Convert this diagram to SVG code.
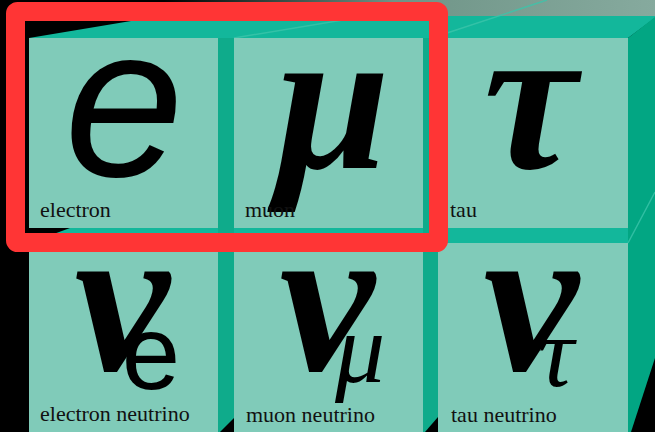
<svg xmlns="http://www.w3.org/2000/svg" width="655" height="432" viewBox="0 0 655 432">
  <defs>
    <linearGradient id="sky" x1="0" y1="0" x2="1" y2="0">
      <stop offset="0.25" stop-color="#000"/>
      <stop offset="0.6" stop-color="#6f9487"/>
      <stop offset="1" stop-color="#86aa9e"/>
    </linearGradient>
  </defs>
  <style>
    .front { fill: #80cbb9; }
    .topband { fill: #13b79b; }
    .strip { fill: #0fab8b; }
    .side { fill: #02a683; }
    .edge { stroke: #3cc4aa; stroke-width: 1.5; fill: none; opacity: 0.8; }
    .label { font-family: "Liberation Serif", "Times New Roman", serif; font-size: 22px; fill: #111; }
    .sym-sans { font-family: "Liberation Sans", Arial, sans-serif; fill: #000; }
    .sym-serif { font-family: "Liberation Serif", "Times New Roman", serif; fill: #000; font-style: italic; }
    .bold { font-weight: bold; }
    .frame { fill: none; stroke: #ff3535; stroke-width: 19; }
  </style>

  <rect x="0" y="0" width="655" height="432" fill="#000"/>
  <rect x="0" y="0" width="655" height="18" fill="url(#sky)"/>

  <g id="cube-structure">
    <!-- top faces of upper row -->
    <polygon class="topband" points="29,38 161,16 655,16 655,18 628,38"/>
    <!-- band between rows (top faces of lower row) -->
    <polygon class="topband" points="29,243 70,228 628,228 628,243"/>
    <!-- vertical strips between columns -->
    <rect class="strip" x="218" y="38" width="16" height="394"/>
    <rect class="strip" x="423" y="38" width="15" height="394"/>
    <!-- right side face -->
    <polygon class="side" points="628,38 655,17 655,358 631,432 628,432"/>
    <!-- perspective edges -->
    <line class="edge" x1="234" y1="38" x2="367" y2="16"/>
    <line class="edge" x1="447" y1="33" x2="547" y2="0"/>
    <line class="edge" x1="628" y1="243" x2="655" y2="192"/>
    <!-- black corners -->
    <polygon fill="#000" points="234,418 234,432 220,432"/>
    <polygon fill="#000" points="438,417 438,432 425,432"/>
  </g>

  <g id="electron">
    <rect class="front" x="29" y="38" width="189" height="190"/>
    <text class="sym-sans" x="124" y="176" font-size="215" font-style="italic" text-anchor="middle">e</text>
    <text class="label" x="40" y="217">electron</text>
  </g>

  <g id="muon">
    <rect class="front" x="234" y="38" width="189" height="190"/>
    <text class="sym-serif bold" x="333" y="168" font-size="205" text-anchor="middle">μ</text>
    <text class="label" x="245" y="217">muon</text>
  </g>

  <g id="tau">
    <rect class="front" x="438" y="38" width="190" height="190"/>
    <text class="sym-serif bold" x="530" y="168" font-size="210" text-anchor="middle">τ</text>
    <text class="label" x="450" y="217">tau</text>
  </g>

  <g id="electron-neutrino">
    <rect class="front" x="29" y="243" width="189" height="189"/>
    <text class="sym-serif bold" x="122" y="370" font-size="215" text-anchor="middle">ν</text>
    <text class="sym-sans" x="151" y="389" font-size="105" text-anchor="middle">e</text>
    <text class="label" x="40" y="421">electron neutrino</text>
  </g>

  <g id="muon-neutrino">
    <rect class="front" x="234" y="243" width="189" height="189"/>
    <text class="sym-serif bold" x="327" y="370" font-size="215" text-anchor="middle">ν</text>
    <text class="sym-serif" x="360" y="382" font-size="100" text-anchor="middle">μ</text>
    <text class="label" x="246" y="422">muon neutrino</text>
  </g>

  <g id="tau-neutrino">
    <rect class="front" x="438" y="243" width="190" height="189"/>
    <text class="sym-serif bold" x="531" y="370" font-size="215" text-anchor="middle">ν</text>
    <text class="sym-serif" x="556" y="386" font-size="100" text-anchor="middle">τ</text>
    <text class="label" x="451" y="422">tau neutrino</text>
  </g>

  <g id="highlight">
    <rect class="frame" x="15.5" y="11.5" width="423" height="231" rx="2"/>
  </g>
</svg>
